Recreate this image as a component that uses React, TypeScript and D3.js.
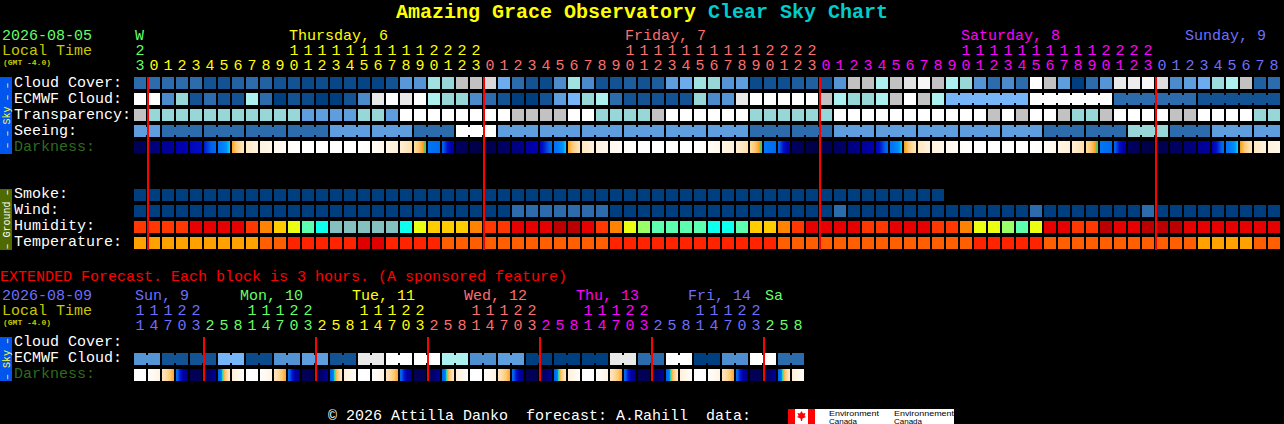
import React from "react";
import * as d3 from "d3";

// ---------- hour and day labels ----------
const mainHours = [23, 0, 1, 2, 3, 4, 5, 6, 7, 8, 9, 10, 11, 12, 13, 14, 15, 16, 17, 18, 19, 20, 21, 22, 23,
  0, 1, 2, 3, 4, 5, 6, 7, 8, 9, 10, 11, 12, 13, 14, 15, 16, 17, 18, 19, 20, 21, 22, 23,
  0, 1, 2, 3, 4, 5, 6, 7, 8, 9, 10, 11, 12, 13, 14, 15, 16, 17, 18, 19, 20, 21, 22, 23,
  0, 1, 2, 3, 4, 5, 6, 7, 8];
const mainDayLabels = [
  { text: "W", cell: 0, tone: "green" },
  { text: "Thursday, 6", cell: 11, tone: "yellow" },
  { text: "Friday, 7", cell: 35, tone: "salmon" },
  { text: "Saturday, 8", cell: 59, tone: "magenta" },
  { text: "Sunday, 9", cell: 75, tone: "periwinkle" },
];
const mainMidnights = [1, 25, 49, 73];
const extHours = [11, 14, 17, 20, 23,
  2, 5, 8, 11, 14, 17, 20, 23,
  2, 5, 8, 11, 14, 17, 20, 23,
  2, 5, 8, 11, 14, 17, 20, 23,
  2, 5, 8, 11, 14, 17, 20, 23,
  2, 5, 8, 11, 14, 17, 20, 23,
  2, 5, 8];
const extDayLabels = [
  { text: "Sun, 9", cell: 0, tone: "periwinkle" },
  { text: "Mon, 10", cell: 7.5, tone: "green" },
  { text: "Tue, 11", cell: 15.5, tone: "yellow" },
  { text: "Wed, 12", cell: 23.5, tone: "salmon" },
  { text: "Thu, 13", cell: 31.5, tone: "magenta" },
  { text: "Fri, 14", cell: 39.5, tone: "periwinkle" },
  { text: "Sa", cell: 45, tone: "green" },
];
const extMidnights = [5, 13, 21, 29, 37, 45];

// ---------- sky series, hourly (0 = clear .. 10 = overcast on the shared ramp) ----------
const cloudCover = [2, 2, 2, 2, 2, 1, 1, 1.6, 2, 1.6, 1, 1, 0.5, 0.7, 0.4, 0.6, 0.3, 0.3, 1, 3.7, 3.5, 6.4,
  6, 8, 8, 8.6, 4.6, 2, 1, 0.6, 3, 6.4, 3, 1, 1, 1.4, 1, 1.4, 4, 4.6, 6.4, 6, 3.5, 4, 0.6, 1, 0.8, 1.4, 1.5, 1,
  3.5, 8, 8, 7, 8, 8.8, 9.6, 8, 7, 6, 3.5, 2, 3, 2, 10, 8, 4, 0, 2, 3.5, 9, 9.2, 9.6, 8.7, 3, 4, 4.6, 6.2, 7, 8, 1.5, 2];
const ecmwfCloud = [10, 10, 3, 6, 1, 2, 1, 1, 7, 2, 0, 1, 0.6, 0, 0, 1, 3, 9, 10, 9, 10, 7,
  6, 6, 3, 2, 1, 0, 0, 1, 4, 5, 6, 7, 2, 1, 1, 1, 1, 1, 6, 3, 3.5, 9, 10, 10, 10, 10, 10, 8, 7, 6,
  6, 7, 8, 10, 8, 7, 5, 5, 5, 5, 5, 5, 10, 10, 10, 10, 10, 10, 2, 2, 2, 2, 2, 2, 1, 1, 1, 1, 1, 1];
const ecmwfRuns = [1, 1, 1, 1, 1, 1, 1, 1, 1, 1, 1, 1, 1, 1, 1, 1, 1, 1, 1, 1, 1, 1, 1, 1, 1, 1, 1, 1, 1,
  1, 1, 1, 1, 1, 1, 1, 1, 1, 1, 1, 1, 1, 1, 1, 1, 1, 1, 1, 1, 1, 1, 1, 1, 1, 1, 1, 1, 1, 6, 6, 6, 6];
const transparency = [8, 6, 6, 6, 6, 6, 6, 6, 6, 6, 6, 6, 4, 4, 4, 4, 6, 6, 4, 10, 10, 10,
  10, 10, 10, 10, 10, 8, 8, 8, 8, 10, 10, 6, 6, 6, 6, 8, 10, 10, 10, 10, 10, 10, 6, 6, 6, 6, 6, 6, 10, 10,
  10, 10, 10, 10, 10, 10, 10, 10, 10, 8, 10, 8, 10, 10, 8, 6, 6, 8, 10, 10, 10, 10, 8, 8, 10, 10, 10, 10, 6, 6];
const seeingRuns = [2, 3, 3, 3, 3, 3, 3, 3, 3, 3, 3, 3, 3, 3, 3, 3, 3, 3, 3, 3, 3, 3, 3, 3, 3, 3, 3, 2];
const seeingRunValues = [4, 2, 2, 2, 2, 4, 4, 2, 10, 4, 4, 4, 4, 4, 4, 2, 2, 4, 4, 4, 4, 4, 2, 2, 6, 2, 4, 4];
// start and end shade of each hourly darkness block (0 = daylight .. 1 = darkest)
const darkness: [number, number][] = [
  [.95, .93], [.88, .85], [.81, .79], [.76, .74], [.72, .69], [.67, .55], [.53, .472], [.44, .25], [.24, .17], [.16, .11], [.1, .05], [.03, 0],
  [0, 0], [0, 0], [0, 0], [0, 0], [0, .03], [.05, .11], [.12, .19], [.2, .3], [.31, .48], [.53, .57], [.58, .8], [.92, .95],
  [.97, .98], [.97, .95], [.92, .9], [.85, .83], [.78, .75], [.72, .56], [.54, .472], [.44, .26], [.25, .18], [.16, .11], [.1, .05], [.03, 0],
  [0, 0], [0, 0], [0, 0], [0, 0], [0, .03], [.05, .11], [.12, .19], [.2, .3], [.31, .48], [.53, .57], [.58, .8], [.92, .95],
  [.97, .98], [.96, .95], [.92, .9], [.86, .83], [.8, .76], [.73, .56], [.54, .472], [.45, .26], [.25, .18], [.17, .11], [.1, .05], [.03, 0],
  [0, 0], [0, 0], [0, 0], [0, 0], [0, .03], [.05, .11], [.12, .19], [.2, .3], [.31, .48], [.53, .57], [.58, .8], [.92, .95],
  [.97, .98], [.97, .95], [.93, .91], [.87, .85], [.81, .79], [.75, .56], [.54, .472], [.45, .26], [.25, .18], [.17, .11],
];

// ---------- ground series, hourly ----------
const smoke = [0, 0, 0, 0, 0, 0, 0, 0, 0, 0, 0, 0, 0, 0, 0, 0, 0, 0, 0, 0, 0, 0, 0, 0, 0, 0, 0, 0, 0,
  0, 0, 0, 0, 0, 0, 0, 0, 0, 0, 0, 0, 0, 0, 0, 0, 0, 0, 0, 0, 0, 0, 0, 0, 0, 0, 0, 0, 0];
const wind = [0, 0, 0, 0, 0, 0, 0, 0, 0, 0, 0, 0, 0, 0, 0, 0, 0, 0, 0, 0, 0, 0, 0, 0, 0, 0, 0,
  2, 2, 2, 2, 2, 2, 2, 0, 0, 0, 0, 0, 0, 0, 0, 0, 0, 0, 0, 0, 0, 0, 0, 2, 0, 0, 0, 0, 0, 0, 0, 0, 0, 0, 0, 0, 0,
  2, 0, 0, 0, 0, 0, 0, 0, 2, 0, 0, 0, 0, 0, 0, 0, 0, 0];
const humidity = [2, 2, 2, 2, 1, 1, 1, 1, 2, 3, 4, 5, 7, 8, 9, 9, 9, 9, 9, 8, 5, 4,
  4, 4, 3, 2, 2, 1, 1, 1, 0, 0, 1, 2, 3, 5, 6, 7, 7, 7, 7, 8, 8, 7, 4, 4, 3, 2, 1, 1, 1, 1,
  2, 2, 1, 1, 1, 2, 2, 3, 5, 5, 6, 7, 5, 1, 1, 2, 2, 0, 1, 1, 0, 0, 0, 1, 1, 1, 1, 1, 1, 1];
const temperature = [0, 0, 0, 0, 0, 0, 0, 0, 0, 1, 1, 2, 2, 2, 2, 2, 3, 3, 2, 2, 2, 2,
  1, 1, 1, 1, 1, 1, 1, 1, 1, 1, 1, 1, 2, 2, 2, 2, 2, 2, 2, 2, 2, 2, 2, 2, 1, 1, 1, 1, 1, 1,
  1, 1, 1, 1, 1, 1, 1, 1, 2, 2, 2, 2, 2, 1, 1, 1, 1, 1, 1, 1, 1, 1, 1, 1, 0, 0, 0, 0, 1, 1];

// ---------- extended series, 3-hourly ----------
const extEcmwfPairs = [3.5, 1, 1, 5, 0.6, 3.4, 4, 1, 9, 10, 10, 7, 3.2, 4, 0, 0, 0, 9, 2, 10, 0, 3.2, 10, 2];
const extDarkness: [number, number][] = [
  [0, 0], [.03, .14], [.25, .44], [.56, .88], [.95, .95], [.97, .8], [.6, .24], [.2, .03],
  [0, 0], [.03, .14], [.25, .44], [.56, .88], [.95, .95], [.97, .8], [.6, .24], [.2, .03],
  [0, 0], [.03, .14], [.25, .44], [.56, .88], [.95, .95], [.97, .8], [.6, .24], [.2, .03],
  [0, 0], [.03, .14], [.25, .44], [.56, .88], [.95, .95], [.97, .8], [.6, .24], [.2, .03],
  [0, 0], [.03, .14], [.25, .44], [.56, .88], [.95, .95], [.97, .8], [.6, .24], [.2, .03],
  [0, 0], [.03, .14], [.25, .44], [.56, .88], [.95, .95], [.97, .8], [.6, .24], [.2, .03],
];

// ---------- colour ramps ----------
const skyRamp = ["#003F7F", "#135393", "#2C6CAC", "#4B8BCB", "#5E9EDE", "#76B6F8", "#98D7D7", "#ADF0F0", "#C2C2C2", "#E9E9E9", "#FFFFFF"];
const skyColor = d3.scaleLinear<string>().domain(d3.range(11)).range(skyRamp);
const humidityColor = d3.scaleOrdinal<number, string>().domain(d3.range(10))
  .range(["#BA0000", "#E60000", "#FF3700", "#FF8200", "#FFCC00", "#EAFF12", "#99FF66", "#5CFFB0", "#0DFFEE", "#85C0C0"]);
const temperatureColor = d3.scaleOrdinal<number, string>().domain(d3.range(4))
  .range(["#FFA200", "#FF5F00", "#FF2300", "#E00000"]);
const darknessColor = d3.scaleLinear<string>()
  .domain([0, .1, .2, .3, .38, .44, .46, .47, .49, .52, .6, .68, .75, .82, .9, 1])
  .range(["#FFFFFF", "#FFF8EE", "#FFEFD5", "#FFDFAC", "#FFC870", "#FFA020", "#60C060", "#00E0F0", "#0090F8", "#0078F8", "#0060E8", "#0010C8", "#0000B0", "#000090", "#000068", "#000040"]);
const tones: Record<string, string> = { green: "#66FF66", yellow: "#FFFF00", salmon: "#FF6E6E", magenta: "#FF00FF", periwinkle: "#6E6EFF" };

// ---------- scales ----------
const mainX = d3.scaleLinear().domain([0, 82]).range([134, 1282]);
const extX = d3.scaleLinear().domain([0, 48]).range([134, 806]);
const CELL = 12;
const mono = "'Liberation Mono', 'DejaVu Sans Mono', monospace";
const FS = 15;

const seeing = seeingRuns.flatMap((n, k) => d3.range(n).map(() => seeingRunValues[k]));
const extEcmwf = extEcmwfPairs.flatMap((v) => [v, v]);
const extRuns = extEcmwfPairs.map(() => 2);

function runStarts(runs: number[]) {
  const set = new Set<number>();
  let at = 0;
  for (const r of runs) { set.add(at); at += r; }
  return set;
}

function Row({ y, values, color, x, runs }: any) {
  const starts = runs ? runStarts(runs) : null;
  return (
    <g>
      {values.map((v: number, i: number) => (
        <g key={i}>
          <rect x={x(i)} y={y} width={CELL} height={CELL} fill={color(v)} shapeRendering="crispEdges" />
          {starts && i > 0 && !starts.has(i) && (
            <rect x={x(i) - 2} y={y + 2} width={2} height={CELL - 4} fill={color(v)} shapeRendering="crispEdges" />
          )}
        </g>
      ))}
    </g>
  );
}

function DarkRow({ y, pairs, x, prefix }: any) {
  return (
    <g>
      <defs>
        {pairs.map((p: [number, number], i: number) => {
          const t = d3.scaleLinear().domain([0, 1]).range(p);
          return (
            <linearGradient key={i} id={`${prefix}${i}`} x1="0" x2="1" y1="0" y2="0">
              {d3.range(0, 1.0001, 1 / 24).map((f) => (
                <stop key={f} offset={f} stopColor={darknessColor(t(f))} />
              ))}
            </linearGradient>
          );
        })}
      </defs>
      {pairs.map((_: any, i: number) => (
        <rect key={i} x={x(i)} y={y} width={CELL} height={CELL} fill={`url(#${prefix}${i})`} shapeRendering="crispEdges" />
      ))}
    </g>
  );
}

function Label({ y, text, fill = "#FFFFFF" }: any) {
  return <text x={14} y={y} fill={fill} fontFamily={mono} fontSize={FS}>{text}</text>;
}

function SideBar({ y, h, fill, color, text }: any) {
  const cy = y + h / 2;
  return (
    <g>
      <rect x={0} y={y} width={12} height={h} fill={fill} shapeRendering="crispEdges" />
      <text x={9.5} y={cy} fill={color} fontFamily={mono} fontSize={10} textAnchor="middle" transform={`rotate(-90 9.5 ${cy})`}>{text}</text>
    </g>
  );
}

function HourHeader({ hours, x, y, toneOf }: any) {
  return (
    <g fontFamily={mono} fontSize={FS} textAnchor="middle">
      {hours.map((h: number, i: number) => (
        <g key={i} fill={toneOf(i)}>
          {h >= 10 && <text x={x(i) + 6} y={y - 15}>{Math.floor(h / 10)}</text>}
          <text x={x(i) + 6} y={y}>{h % 10}</text>
        </g>
      ))}
    </g>
  );
}

const mainTone = d3.scaleThreshold<number, string>().domain([1, 25, 49, 73])
  .range([tones.green, tones.yellow, tones.salmon, tones.magenta, tones.periwinkle]);
const extTone = d3.scaleThreshold<number, string>().domain([5, 13, 21, 29, 37, 45])
  .range([tones.periwinkle, tones.green, tones.yellow, tones.salmon, tones.magenta, tones.periwinkle, tones.green]);

export default function App() {
  return (
    <svg width={1284} height={424} viewBox="0 0 1284 424"
      style={{ position: "absolute", left: 0, top: 0, display: "block", background: "#000" }}>
      <rect width={1284} height={424} fill="#000" />

      {/* title */}
      <text x={396} y={18} fontFamily={mono} fontWeight="bold" fontSize={20}>
        <tspan fill="#FFFF00">Amazing Grace Observatory </tspan>
        <tspan fill="#00CCCC">Clear Sky Chart</tspan>
      </text>

      {/* main header */}
      <text x={2} y={40} fill="#66FF66" fontFamily={mono} fontSize={FS}>2026-08-05</text>
      <text x={2} y={55} fill="#C8C800" fontFamily={mono} fontSize={FS}>Local Time</text>
      <text x={3} y={65} fill="#C8C800" fontFamily={mono} fontSize={8} fontWeight="bold">(GMT -4.0)</text>
      <g fontFamily={mono} fontSize={FS}>
        {mainDayLabels.map((d) => (
          <text key={d.text} x={mainX(d.cell) + 1} y={40} fill={tones[d.tone]}>{d.text}</text>
        ))}
      </g>
      <HourHeader hours={mainHours} x={mainX} y={70} toneOf={(i: number) => mainTone(i)} />

      {/* sky block */}
      <SideBar y={77} h={77} fill="#0055EE" color="#FFFF33" text="– – Sky – –" />
      <Label y={87} text="Cloud Cover:" />
      <Label y={103} text="ECMWF Cloud:" />
      <Label y={119} text="Transparency:" />
      <Label y={135} text="Seeing:" />
      <Label y={151} text="Darkness:" fill="#2F6B1E" />
      <Row y={77} x={mainX} values={cloudCover} color={skyColor} />
      <Row y={93} x={mainX} values={ecmwfCloud} color={skyColor} runs={ecmwfRuns} />
      <Row y={109} x={mainX} values={transparency} color={skyColor} />
      <Row y={125} x={mainX} values={seeing} color={skyColor} runs={seeingRuns} />
      <DarkRow y={141} x={mainX} pairs={darkness} prefix="dm" />

      {/* ground block */}
      <SideBar y={189} h={61} fill="#4E6A00" color="#FFFFFF" text="– Ground –" />
      <Label y={198} text="Smoke:" />
      <Label y={214} text="Wind:" />
      <Label y={230} text="Humidity:" />
      <Label y={246} text="Temperature:" />
      <Row y={189} x={mainX} values={smoke} color={skyColor} />
      <Row y={205} x={mainX} values={wind} color={skyColor} />
      <Row y={221} x={mainX} values={humidity} color={humidityColor} />
      <Row y={237} x={mainX} values={temperature} color={temperatureColor} />

      {mainMidnights.map((m) => (
        <rect key={m} x={mainX(m) - 1} y={77} width={2} height={173} fill="#FF0000" shapeRendering="crispEdges" />
      ))}

      {/* extended section */}
      <text x={0} y={281} fill="#FF0000" fontFamily={mono} fontSize={FS}>EXTENDED Forecast. Each block is 3 hours. (A sponsored feature)</text>
      <text x={2} y={300} fill="#6E6EFF" fontFamily={mono} fontSize={FS}>2026-08-09</text>
      <text x={2} y={315} fill="#C8C800" fontFamily={mono} fontSize={FS}>Local Time</text>
      <text x={3} y={325} fill="#C8C800" fontFamily={mono} fontSize={8} fontWeight="bold">(GMT -4.0)</text>
      <g fontFamily={mono} fontSize={FS}>
        {extDayLabels.map((d) => (
          <text key={d.text} x={extX(d.cell) + 1} y={300} fill={tones[d.tone]}>{d.text}</text>
        ))}
      </g>
      <HourHeader hours={extHours} x={extX} y={330} toneOf={(i: number) => extTone(i)} />
      <SideBar y={337} h={44} fill="#0055EE" color="#FFFF33" text="– Sky –" />
      <Label y={346} text="Cloud Cover:" />
      <Label y={362} text="ECMWF Cloud:" />
      <Label y={378} text="Darkness:" fill="#2F6B1E" />
      <Row y={353} x={extX} values={extEcmwf} color={skyColor} runs={extRuns} />
      <DarkRow y={369} x={extX} pairs={extDarkness} prefix="de" />
      {extMidnights.map((m) => (
        <rect key={m} x={extX(m) - 1} y={337} width={2} height={44} fill="#FF0000" shapeRendering="crispEdges" />
      ))}

      {/* footer */}
      <text x={328} y={420} fill="#FFFFFF" fontFamily={mono} fontSize={FS} style={{ whiteSpace: "pre" }}>© 2026 Attilla Danko  forecast: A.Rahill  data:</text>
      <rect x={788} y={409} width={166} height={15} fill="#FFFFFF" shapeRendering="crispEdges" />
      <rect x={788} y={409} width={7} height={15} fill="#FF0000" shapeRendering="crispEdges" />
      <rect x={808} y={409} width={7} height={15} fill="#FF0000" shapeRendering="crispEdges" />
      <path d="M801.5 411 L803 413.5 L805.5 413 L804.5 416 L806 417 L802.5 418.5 L802 421 L801 421 L800.5 418.5 L797 417 L798.5 416 L797.5 413 L800 413.5 Z" fill="#FF0000" />
      <g fontFamily="'Liberation Sans', sans-serif" fontSize={7} fill="#000">
        <text x={829} y={415.5} textLength={50} lengthAdjust="spacingAndGlyphs">Environment</text>
        <text x={829} y={423.5} textLength={28} lengthAdjust="spacingAndGlyphs">Canada</text>
        <text x={894} y={415.5} textLength={60} lengthAdjust="spacingAndGlyphs">Environnement</text>
        <text x={894} y={423.5} textLength={28} lengthAdjust="spacingAndGlyphs">Canada</text>
      </g>
    </svg>
  );
}
